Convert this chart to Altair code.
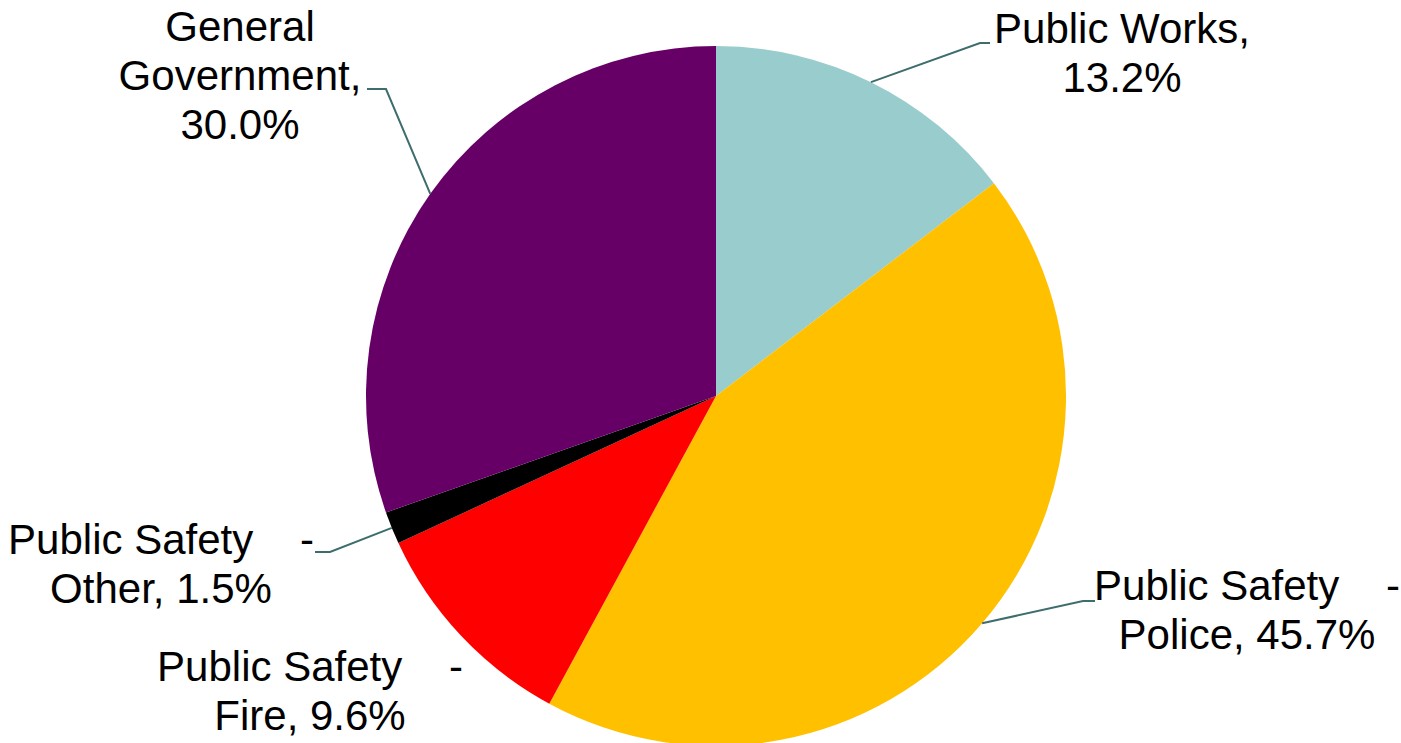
import altair as alt
import numpy as np
import pandas as pd

# ---- data ----
categories = ["Public Works", "Public Safety - Police", "Public Safety - Fire",
              "Public Safety - Other", "General Government"]
# slice shares as drawn in the picture (percent)
shares = [14.6, 43.3, 10.2, 1.5, 30.4]
# percentages printed on the labels
label_pct = [13.2, 45.7, 9.6, 1.5, 30.0]
label_text = [
    "Public Works,\n13.2%",
    "Public Safety\u00a0\u00a0\u00a0\u00a0-\nPolice, 45.7%",
    "Public Safety\u00a0\u00a0\u00a0\u00a0-\nFire, 9.6%",
    "Public Safety\u00a0\u00a0\u00a0\u00a0-\nOther, 1.5%",
    "General\nGovernment,\n30.0%",
]
colors = ["#99CCCC", "#FFC000", "#FF0000", "#000000", "#660066"]

# ---- layout ----
W, H = 1401, 743
CX, CY, R = 716, 396, 350
FONT = "Liberation Sans"
# centre of the first line of each label
label_anchor = {
    "Public Works": (1122, 30),
    "Public Safety - Police": (1247, 587),
    "Public Safety - Fire": (310, 668),
    "Public Safety - Other": (161, 541),
    "General Government": (240, 28),
}
leader_bends = {
    "Public Works": [(980, 43), (990, 43)],
    "Public Safety - Police": [(1083, 601), (1095, 601)],
    "Public Safety - Other": [(330, 552), (315, 552)],
    "General Government": [(386, 89), (367, 89)],
}

df = pd.DataFrame({"category": categories, "share": shares,
                   "idx": list(range(len(categories)))})

lab_df = pd.DataFrame({
    "category": categories,
    "label": label_text,
    "lx": [label_anchor[c][0] for c in categories],
    "ly": [label_anchor[c][1] for c in categories],
})

# leader lines: start at the mid-angle of each slice on the pie edge
tot = sum(shares)
cum = np.cumsum([0] + shares)
rows = []
for i, c in enumerate(categories):
    if c not in leader_bends:
        continue
    mid = (cum[i] + cum[i + 1]) / 2 / tot * 2 * np.pi
    sx, sy = CX + R * np.sin(mid), CY - R * np.cos(mid)
    pts = [(sx, sy)] + leader_bends[c]
    for k, (px, py) in enumerate(pts):
        rows.append({"category": c, "k": k, "px": px, "py": py})
line_df = pd.DataFrame(rows)

pie = alt.Chart(df).mark_arc(radius=R).encode(
    theta=alt.Theta("share:Q", stack=True),
    color=alt.Color("category:N", scale=alt.Scale(domain=categories, range=colors), legend=None),
    order=alt.Order("idx:Q"),
    x=alt.value(CX),
    y=alt.value(CY),
)

leaders = alt.Chart(line_df).mark_line(color="#3d6d6d", strokeWidth=2).encode(
    x=alt.X("px:Q", scale=None, axis=None),
    y=alt.Y("py:Q", scale=None, axis=None),
    detail="category:N",
    order="k:Q",
)

labels = alt.Chart(lab_df).mark_text(
    font=FONT, fontSize=42, lineBreak="\n", lineHeight=49,
    align="center", baseline="middle", color="#000000",
).encode(
    x=alt.X("lx:Q", scale=None, axis=None),
    y=alt.Y("ly:Q", scale=None, axis=None),
    text="label:N",
)

chart = alt.layer(pie, leaders, labels).resolve_scale(
    x="independent", y="independent"
).properties(
    width=W, height=H, padding=0, autosize="none", background="white"
).configure_view(stroke=None)

chart.save("out.html", embed_options={"renderer": "svg", "actions": False})
